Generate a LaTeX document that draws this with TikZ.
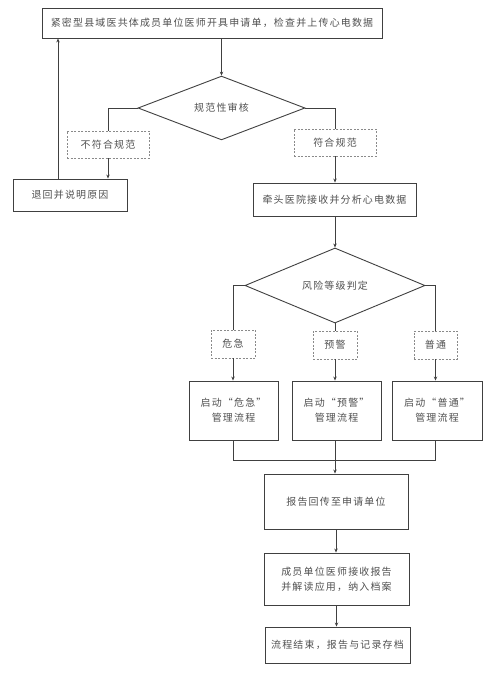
\documentclass[tikz,border=0pt]{standalone}
\usepackage{fontspec}
\newfontfamily\cjk[LetterSpace=12]{Noto Sans CJK SC}
\usetikzlibrary{shapes.geometric,arrows.meta}
\definecolor{lineg}{HTML}{404040}
\definecolor{dashg}{HTML}{8A8A8A}
\definecolor{textg}{HTML}{505050}
\tikzset{
  proc/.style={draw=lineg, line width=0.9bp, text=textg, align=center, inner sep=0pt},
  cond/.style={draw=dashg, dashed, dash pattern=on 2bp off 1.5bp, line width=0.7bp, text=textg, inner sep=0pt},
  judge/.style={diamond, draw=lineg, line width=0.9bp, text=textg, inner sep=0pt},
  link/.style={draw=lineg, line width=0.9bp},
  arr/.style={link, -{Stealth[length=4bp,width=3.4bp]}}
}
\begin{document}
\begin{tikzpicture}[x=1bp, y=-1bp, font=\cjk\fontsize{10}{15}\selectfont]
  \useasboundingbox (0,0) rectangle (500,680);
  \node[proc, minimum width=340bp, minimum height=30bp](Apply) at (212, 23) {紧密型县域医共体成员单位医师开具申请单，检查并上传心电数据};
  \node[judge, minimum width=167bp, minimum height=59bp](Check) at (221.5, 108) {规范性审核};
    \node[cond, minimum width=82bp, minimum height=27bp](No) at (108, 144.5) {不符合规范};
    \node[proc, minimum width=114bp, minimum height=32bp](Back) at (70, 195) {退回并说明原因};
    \coordinate(Ret) at (58, 0);
    \node[cond, minimum width=82bp, minimum height=27bp](Yes) at (335, 142.5) {符合规范};
    \node[proc, minimum width=163bp, minimum height=33bp](Recv) at (334.5, 199.5) {牵头医院接收并分析心电数据};

  \node[judge, minimum width=180bp, minimum height=65bp](Risk) at (335, 285.5) {风险等级判定};
    \node[cond, minimum width=44bp, minimum height=28bp](Lv1) at (233, 344) {危急};
    \node[cond, minimum width=44bp, minimum height=28bp](Lv2) at (335, 345) {预警};
    \node[cond, minimum width=43bp, minimum height=28bp](Lv3) at (435.5, 345) {普通};
    \node[proc, minimum width=89bp, minimum height=59bp](Flow1) at (233.5, 410.5) {启动“危急”\\管理流程};
    \node[proc, minimum width=89bp, minimum height=59bp](Flow2) at (336.5, 410.5) {启动“预警”\\管理流程};
    \node[proc, minimum width=90bp, minimum height=59bp](Flow3) at (437, 410.5) {启动“普通”\\管理流程};
    \coordinate(Join) at (335, 460);

  \node[proc, minimum width=144bp, minimum height=55bp](Report) at (336, 501.5) {报告回传至申请单位};
  \node[proc, minimum width=145bp, minimum height=52bp](Member) at (336.5, 579) {成员单位医师接收报告\\并解读应用，纳入档案};
  \node[proc, minimum width=145bp, minimum height=36bp](Finish) at (337.5, 645) {流程结束，报告与记录存档};

  \draw[arr] (Check.north |- Apply.south) -- (Check.north);
  \draw[link] (Check.west) -| (No.north);
  \draw[arr] (No.south) -- (No.south |- Back.north);
  \draw[arr] (Ret |- Back.north) -- (Ret |- Apply.south);
  \draw[link] (Check.east) -| (Yes.north);
  \draw[arr] (Yes.south) -- (Yes.south |- Recv.north);
  \draw[arr] (Recv.south -| Risk.north) -- (Risk.north);
  \draw[link] (Risk.west) -| (Lv1.north);
  \draw[link] (Risk.south) -- (Lv2.north);
  \draw[link] (Risk.east) -| (Lv3.north);
  \draw[arr] (Lv1.south) -- (Lv1.south |- Flow1.north);
  \draw[arr] (Lv2.south) -- (Lv2.south |- Flow2.north);
  \draw[arr] (Lv3.south) -- (Lv3.south |- Flow3.north);
  \draw[link] (Lv1.south |- Flow1.south) -- (Lv1.south |- Join) -- (Lv3.south |- Join) -- (Lv3.south |- Flow3.south)
              (Lv2.south |- Flow2.south) -- (Join);
  \draw[arr] (Join) -- (Join |- Report.north);
  \draw[arr] (Report.south) -- (Report.south |- Member.north);
  \draw[arr] (Member.south) -- (Member.south |- Finish.north);
\end{tikzpicture}
\end{document}
